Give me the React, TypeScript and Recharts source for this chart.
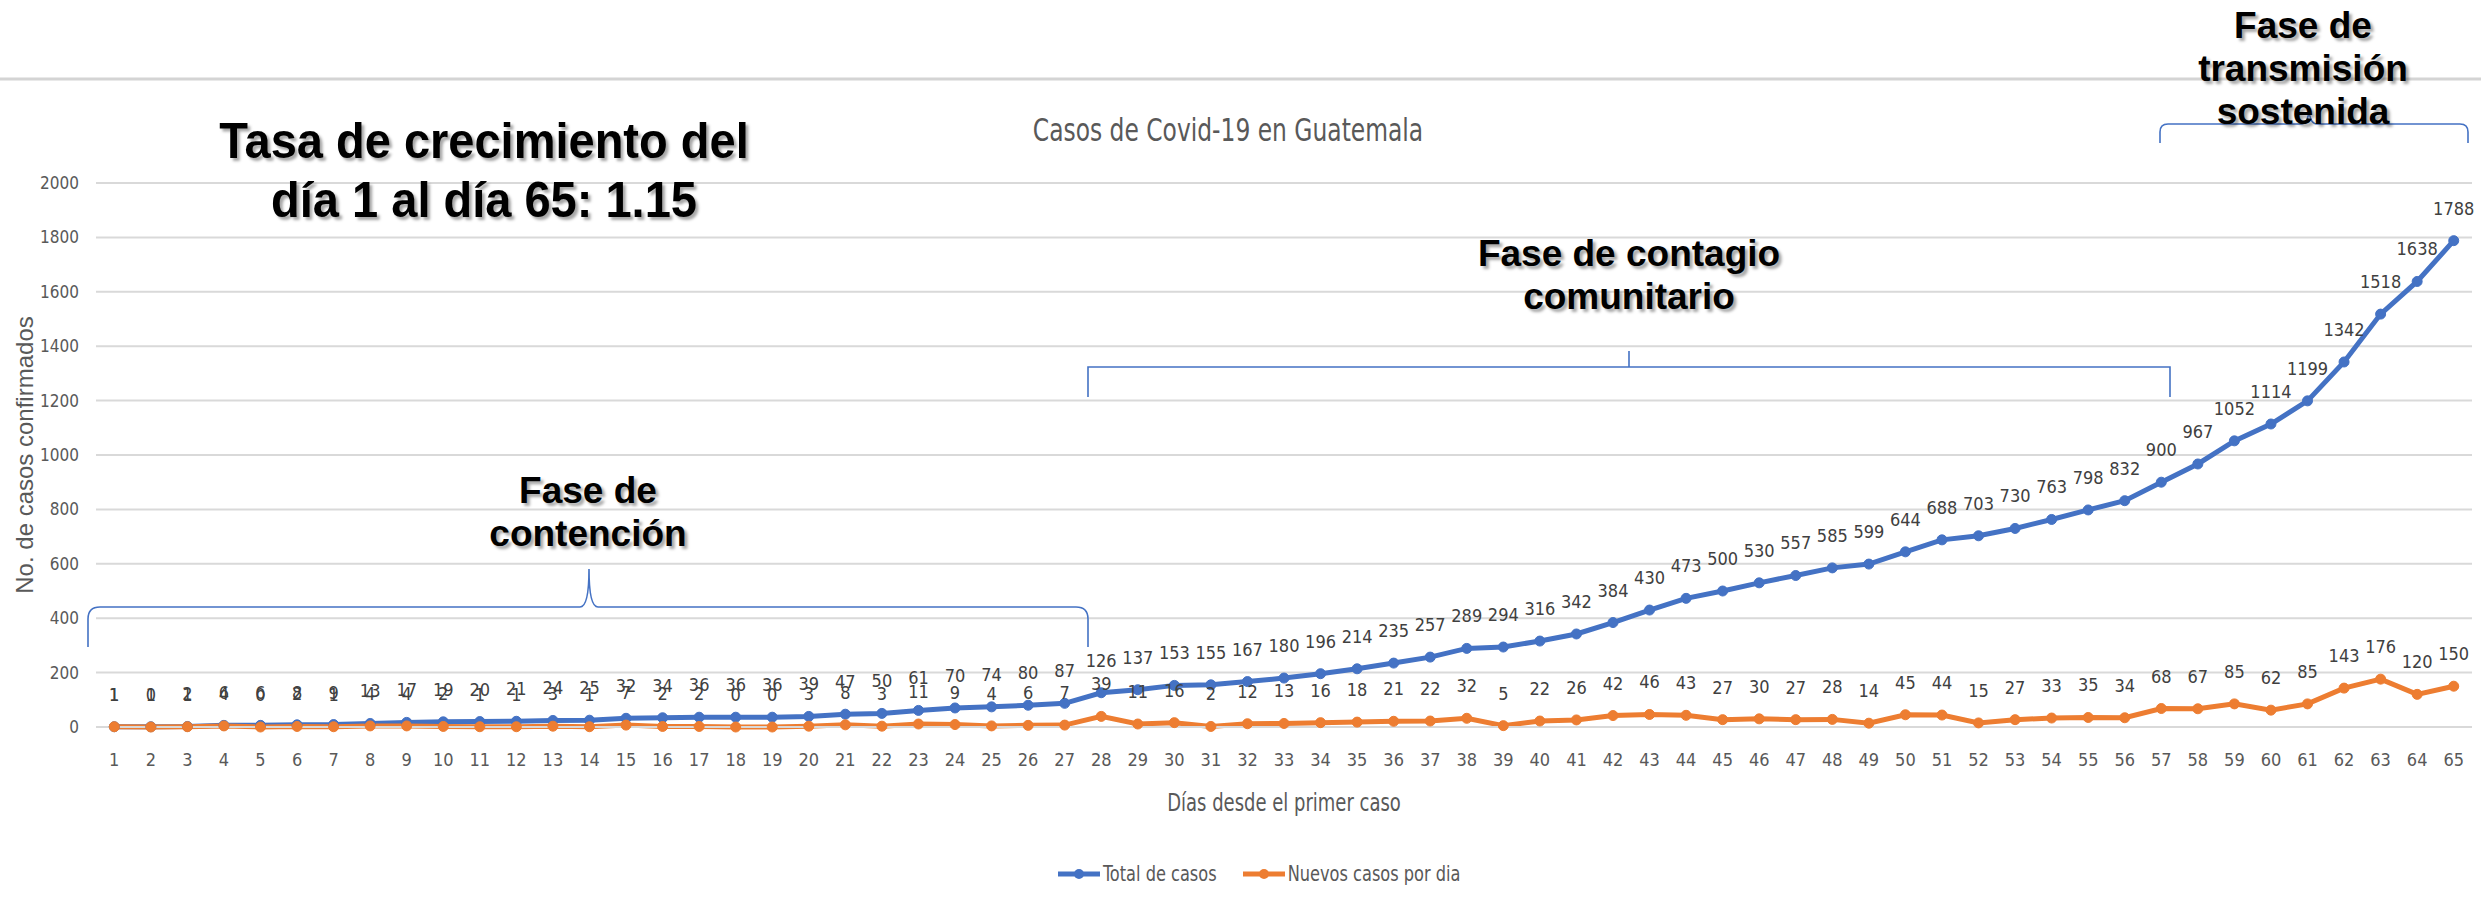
import React from "react";
import { LineChart, Line, XAxis, YAxis, CartesianGrid, LabelList } from "recharts";

const days = [
  1, 2, 3, 4, 5, 6, 7, 8, 9, 10, 11, 12, 13, 14, 15, 16, 17, 18, 19, 20, 21, 22,
  23, 24, 25, 26, 27, 28, 29, 30, 31, 32, 33, 34, 35, 36, 37, 38, 39, 40, 41, 42,
  43, 44, 45, 46, 47, 48, 49, 50, 51, 52, 53, 54, 55, 56, 57, 58, 59, 60, 61, 62,
  63, 64, 65,
];

const totalCases = [
  1, 1, 2, 6, 6, 8, 9, 13, 17, 19, 20, 21, 24, 25, 32, 34, 36, 36, 36, 39, 47, 50,
  61, 70, 74, 80, 87, 126, 137, 153, 155, 167, 180, 196, 214, 235, 257, 289, 294,
  316, 342, 384, 430, 473, 500, 530, 557, 585, 599, 644, 688, 703, 730, 763, 798,
  832, 900, 967, 1052, 1114, 1199, 1342, 1518, 1638, 1788,
];

const newCases = [
  1, 0, 1, 4, 0, 2, 1, 4, 4, 2, 1, 1, 3, 1, 7, 2, 2, 0, 0, 3, 8, 3, 11, 9, 4, 6, 7,
  39, 11, 16, 2, 12, 13, 16, 18, 21, 22, 32, 5, 22, 26, 42, 46, 43, 27, 30, 27, 28,
  14, 45, 44, 15, 27, 33, 35, 34, 68, 67, 85, 62, 85, 143, 176, 120, 150,
];

const yTicks = [0, 200, 400, 600, 800, 1000, 1200, 1400, 1600, 1800, 2000];

const BLUE = "#4472C4";
const ORANGE = "#ED7D31";
const GREY = "#595959";
const NARROW = '"Liberation Sans Narrow", "DejaVu Sans Condensed", sans-serif';
const BOLD = '"Liberation Sans", Arial, sans-serif';

const data = days.map((d, i) => ({ day: d, total: totalCases[i], nuevos: newCases[i] }));

const phaseText: React.CSSProperties = {
  position: "absolute",
  fontFamily: BOLD,
  fontWeight: 700,
  fontSize: 37,
  lineHeight: "43px",
  color: "#000",
  textAlign: "center",
  textShadow: "3px 3px 3px rgba(0,0,0,0.35)",
  whiteSpace: "nowrap",
};

function LegendItem({ color, label }: { color: string; label: string }) {
  return (
    <div style={{ display: "flex", alignItems: "center", marginRight: 24 }}>
      <svg width={46} height={16}>
        <line x1={2} y1={8} x2={44} y2={8} stroke={color} strokeWidth={5} />
        <circle cx={23} cy={8} r={5} fill={color} />
      </svg>
      <span style={{ fontFamily: NARROW, fontSize: 18, color: GREY, marginLeft: 1, display: "inline-block", transform: "scaleY(1.15)" }}>
        {label}
      </span>
    </div>
  );
}

export default function App() {
  return (
    <div style={{ position: "absolute", left: 0, top: 0, width: 2481, height: 911, background: "#fff", overflow: "hidden" }}>
      <LineChart
        width={2481}
        height={911}
        data={data}
        margin={{ top: 183, right: 9, left: 36, bottom: 154 }}
        style={{ fontFamily: NARROW }}
      >
        <CartesianGrid vertical={false} stroke="#d9d9d9" strokeWidth={2} />
        <XAxis
          dataKey="day"
          type="number"
          domain={[0.5, 65.5]}
          ticks={days}
          interval={0}
          height={30}
          tickLine={false}
          tickMargin={20}
          axisLine={{ stroke: "#d9d9d9", strokeWidth: 2 }}
          tick={{ fontSize: 18, fill: GREY, fontFamily: NARROW }}
        />
        <YAxis
          domain={[0, 2000]}
          ticks={yTicks}
          width={60}
          axisLine={false}
          tickLine={false}
          tickMargin={11}
          tick={{ fontSize: 17, fill: GREY, fontFamily: NARROW }}
        />
        <Line
          type="linear"
          dataKey="total"
          stroke={BLUE}
          strokeWidth={5}
          dot={{ r: 5, fill: BLUE, stroke: BLUE, strokeWidth: 1 }}
          isAnimationActive={false}
        >
          <LabelList dataKey="total" position="top" offset={26} fill="#404040" fontSize={18} fontFamily={NARROW} />
        </Line>
        <Line
          type="linear"
          dataKey="nuevos"
          stroke={ORANGE}
          strokeWidth={5}
          dot={{ r: 5, fill: ORANGE, stroke: ORANGE, strokeWidth: 1 }}
          isAnimationActive={false}
        >
          <LabelList dataKey="nuevos" position="top" offset={26} fill="#404040" fontSize={18} fontFamily={NARROW} />
        </Line>
      </LineChart>

      {/* brackets and separator line */}
      <svg width={2481} height={911} style={{ position: "absolute", left: 0, top: 0, pointerEvents: "none" }}>
        <line x1={0} y1={79} x2={2481} y2={79} stroke="#d4d4d4" strokeWidth={3} />
        <path
          d="M88 647 L88 619 Q88 607 100 607 L580 607 Q589 607 589 569 Q589 607 598 607 L1076 607 Q1088 607 1088 619 L1088 647"
          fill="none"
          stroke={BLUE}
          strokeWidth={1.6}
        />
        <path
          d="M1088 397 L1088 367 L1629 367 L1629 351 M1629 367 L2170 367 L2170 397"
          fill="none"
          stroke={BLUE}
          strokeWidth={1.6}
        />
        <path
          d="M2160 143 L2160 132 Q2160 124 2168 124 L2301 124 Q2309 124 2309 106 Q2309 124 2317 124 L2460 124 Q2468 124 2468 132 L2468 143"
          fill="none"
          stroke={BLUE}
          strokeWidth={1.6}
        />
      </svg>

      {/* chart title and axis titles */}
      <div
        style={{
          position: "absolute",
          left: 928,
          top: 115,
          width: 600,
          textAlign: "center",
          fontFamily: NARROW,
          fontSize: 26,
          color: GREY,
          transform: "scaleY(1.2)",
        }}
      >
        Casos de Covid-19 en Guatemala
      </div>
      <div
        style={{
          position: "absolute",
          left: 1084,
          top: 791,
          width: 400,
          textAlign: "center",
          fontFamily: NARROW,
          fontSize: 20,
          color: GREY,
          transform: "scaleY(1.2)",
        }}
      >
        Días desde el primer caso
      </div>
      <div
        style={{
          position: "absolute",
          left: 25 - 200,
          top: 455 - 14,
          width: 400,
          textAlign: "center",
          fontFamily: '"Liberation Sans", sans-serif',
          fontSize: 24,
          lineHeight: "28px",
          color: GREY,
          transform: "rotate(-90deg)",
        }}
      >
        No. de casos confirmados
      </div>

      {/* legend */}
      <div style={{ position: "absolute", left: 1056, top: 863, display: "flex" }}>
        <LegendItem color={BLUE} label="Total de casos" />
        <LegendItem color={ORANGE} label="Nuevos casos por dia" />
      </div>

      {/* annotations */}
      <div
        style={{
          ...phaseText,
          left: 484 - 350,
          top: 112,
          width: 700,
          fontSize: 50,
          lineHeight: "59px",
          transform: "scaleX(0.94)",
        }}
      >
        Tasa de crecimiento del
        <br />
        día 1 al día 65: 1.15
      </div>
      <div style={{ ...phaseText, left: 1629 - 200, top: 232, width: 400 }}>
        Fase de contagio
        <br />
        comunitario
      </div>
      <div style={{ ...phaseText, left: 588 - 150, top: 469, width: 300 }}>
        Fase de
        <br />
        contención
      </div>
      <div style={{ ...phaseText, left: 2303 - 150, top: 4, width: 300 }}>
        Fase de
        <br />
        transmisión
        <br />
        sostenida
      </div>
    </div>
  );
}
